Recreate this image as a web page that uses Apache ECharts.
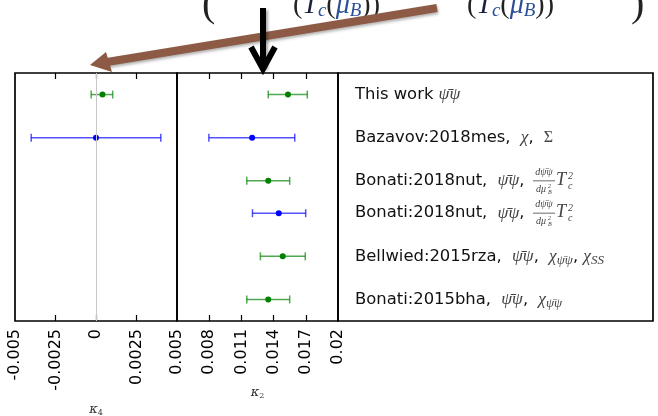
<!DOCTYPE html>
<html><head><meta charset="utf-8">
<script src="https://cdn.jsdelivr.net/npm/echarts@6/dist/echarts.min.js"></script>
<style>html,body{margin:0;padding:0;background:#fff}#c{width:658px;height:416px}</style>
</head><body><div id="c"></div>
<script>
// ---- data ----
const rowNames = ['This work', 'Bazavov:2018mes,', 'Bonati:2018nut,', 'Bonati:2018nut,', 'Bellwied:2015rza,', 'Bonati:2015bha,'];
const rowMath = ['{m|ψ̄ψ}', '{g| }{m|χ}, {g| }{r|Σ}', '{g| }{m|ψ̄ψ},', '{g| }{m|ψ̄ψ},',
  '{g| }{m|ψ̄ψ}, {g| }{m|χ}{sub|ψ̄ψ}, {m|χ}{sub|SS}', '{g| }{m|ψ̄ψ}, {g| }{m|χ}{sub|ψ̄ψ}'];
const fracRows = [2, 3];
const rowPos = [5.25, 4.25, 3.25, 2.5, 1.5, 0.5];
const rowGroup = ['g', 'b', 'g', 'b', 'g', 'g'];
const k4Val = [0.0004, 0.0, null, null, null, null];
const k4Lo  = [-0.0003, -0.004, null, null, null, null];
const k4Hi  = [0.00103, 0.004, null, null, null, null];
const k2Val = [0.01534, 0.0120, 0.0135, 0.01448, 0.01485, 0.0135];
const k2Lo  = [0.0135, 0.00797, 0.0115, 0.01203, 0.01277, 0.0115];
const k2Hi  = [0.01714, 0.01597, 0.0155, 0.01699, 0.01695, 0.0155];
const k4Labels = [-0.005, -0.0025, 0, 0.0025];
const k4Ticks = [-0.0025, 0, 0.0025];
const k2Labels = [0.005, 0.008, 0.011, 0.014, 0.017, 0.02];
const k2Ticks = [0.008, 0.011, 0.014, 0.017];

// ---- styles ----
const colors = { g: '#008000', b: '#0000ff' };
const mathColor = '#444';
const mathFont = 'Liberation Serif';
const fmt = v => String(+(+v).toFixed(4));

function errRender(params, api) {
  const y = api.value(2);
  const p1 = api.coord([api.value(0), y]);
  const p2 = api.coord([api.value(1), y]);
  const h = 4;
  const st = { stroke: api.visual('color'), lineWidth: 1.5, opacity: 0.68 };
  return { type: 'group', children: [
    { type: 'line', shape: { x1: p1[0], y1: p1[1], x2: p2[0], y2: p2[1] }, style: st },
    { type: 'line', shape: { x1: p1[0], y1: p1[1] - h, x2: p1[0], y2: p1[1] + h }, style: st },
    { type: 'line', shape: { x1: p2[0], y1: p2[1] - h, x2: p2[0], y2: p2[1] + h }, style: st }
  ]};
}
function build(vals, lo, hi, xi, yi) {
  const out = [];
  ['g', 'b'].forEach(g => {
    const errData = [], ptData = [];
    vals.forEach((v, i) => {
      if (v == null || rowGroup[i] !== g) return;
      errData.push([lo[i], hi[i], rowPos[i]]);
      ptData.push([v, rowPos[i]]);
    });
    out.push({ type: 'custom', xAxisIndex: xi, yAxisIndex: yi, renderItem: errRender, silent: true,
      itemStyle: { color: colors[g] }, encode: { x: [0, 1], y: 2 }, data: errData, z: 3 });
    out.push({ type: 'scatter', xAxisIndex: xi, yAxisIndex: yi, symbol: 'circle', symbolSize: 6, silent: true,
      itemStyle: { color: colors[g], opacity: 1 }, data: ptData, z: 4 });
  });
  return out;
}

const series = [
  { type: 'scatter', xAxisIndex: 0, yAxisIndex: 0, data: [], silent: true, z: 1,
    markLine: { silent: true, symbol: ['none', 'none'], label: { show: false },
      lineStyle: { color: '#c8c8c8', width: 1, type: 'solid' }, data: [{ xAxis: 0 }] } },
  ...build(k4Val, k4Lo, k4Hi, 0, 0),
  ...build(k2Val, k2Lo, k2Hi, 2, 1)
];

const tickStyle = { inside: true, length: 6, lineStyle: { color: '#000', width: 1.2 } };
const labelStyle = { rotate: 90, margin: 8, fontFamily: 'DejaVu Sans', fontSize: 16, color: '#000', formatter: fmt };
const nameStyle = { color: '#333', rich: {
  k: { fontFamily: 'DejaVu Serif', fontStyle: 'italic', fontSize: 13, color: '#333' },
  s: { fontFamily: 'DejaVu Serif', fontSize: 8, color: '#333', padding: [6, 0, 0, 0] } } };

function xAx(grid, min, max, pos, ticks, labels, name, gap) {
  return { gridIndex: grid, type: 'value', min, max, position: pos,
    axisLine: { show: false }, splitLine: { show: false },
    axisTick: Object.assign({}, tickStyle, { customValues: ticks }),
    axisLabel: labels ? Object.assign({}, labelStyle, { customValues: labels }) : { show: false },
    name: name || '', nameLocation: 'middle', nameGap: gap || 0, nameTextStyle: nameStyle };
}

const gridBase = { top: 73, height: 248, show: true, borderColor: '#000', borderWidth: 1.7, containLabel: false, outerBoundsMode: 'none' };
const option = {
  backgroundColor: '#fff',
  animation: false,
  grid: [
    Object.assign({ left: 15, width: 162 }, gridBase),
    Object.assign({ left: 177, width: 161 }, gridBase),
    Object.assign({ left: 338, width: 315 }, gridBase)
  ],
  xAxis: [
    xAx(0, -0.005, 0.005, 'bottom', k4Ticks, k4Labels, '{k|κ}{s|4}', 82),
    xAx(0, -0.005, 0.005, 'top', k4Ticks, null),
    xAx(1, 0.005, 0.02, 'bottom', k2Ticks, k2Labels, '{k|κ}{s|2}', 65),
    xAx(1, 0.005, 0.02, 'top', k2Ticks, null),
    { gridIndex: 2, type: 'value', min: 0, max: 1, show: false }
  ],
  yAxis: [
    { gridIndex: 0, type: 'value', min: 0, max: 5.75, show: false },
    { gridIndex: 1, type: 'value', min: 0, max: 5.75, show: false },
    { gridIndex: 2, type: 'value', min: 0, max: 5.75,
      axisLine: { show: false }, axisTick: { show: false }, splitLine: { show: false },
      axisLabel: { customValues: rowPos, inside: true, margin: 17, fontFamily: 'DejaVu Sans', fontSize: 16.4, color: '#111',
        formatter: v => { let i = 0; rowPos.forEach((p, j) => { if (Math.abs(p - v) < Math.abs(rowPos[i] - v)) i = j; }); return rowNames[i] + ' ' + rowMath[i]; },
        rich: {
          g: { width: 5, fontSize: 10 },
          m: { fontFamily: mathFont, fontStyle: 'italic', fontSize: 17.5, color: mathColor, lineHeight: 22 },
          r: { fontFamily: mathFont, fontSize: 16, color: mathColor, lineHeight: 22 },
          sub: { fontFamily: mathFont, fontStyle: 'italic', fontSize: 13, color: mathColor, verticalAlign: 'bottom', lineHeight: 22 }
        } } }
  ],
  series
};

const chart = echarts.init(document.getElementById('c'), null, { renderer: 'canvas' });
chart.setOption(option);

// ---- decorations: formula fragment, arrows, fractions ----
const serif = 'Liberation Serif';
const formulaRich = {
  p: { fontFamily: serif, fontSize: 28, fill: '#222' },
  T: { fontFamily: serif, fontStyle: 'italic', fontSize: 28, fill: '#1a1f3a' },
  c: { fontFamily: serif, fontStyle: 'italic', fontSize: 19, fill: '#2a4f96', verticalAlign: 'bottom' },
  mu: { fontFamily: serif, fontStyle: 'italic', fontSize: 28, fill: '#2a4f96' },
  B: { fontFamily: serif, fontStyle: 'italic', fontSize: 19, fill: '#2a4f96', verticalAlign: 'bottom' }
};
const formulaText = '{p|(}{T|T}{c|c}{p|(}{mu|μ}{B|B}{p|))}';
const graphics = [
  { type: 'text', x: 202, y: 25, style: { text: '(', fontFamily: serif, fontSize: 40, fill: '#222', verticalAlign: 'bottom' } },
  { type: 'text', x: 631, y: 25, style: { text: ')', fontFamily: serif, fontSize: 40, fill: '#222', verticalAlign: 'bottom' } },
  { type: 'text', x: 293, y: 20, style: { text: formulaText, rich: formulaRich, verticalAlign: 'bottom' } },
  { type: 'text', x: 467, y: 20, style: { text: formulaText, rich: formulaRich, verticalAlign: 'bottom' } },
  { type: 'line', shape: { x1: 437, y1: 8, x2: 104, y2: 62.5 }, style: { stroke: '#8c5a45', lineWidth: 8, shadowBlur: 3, shadowColor: 'rgba(0,0,0,0.3)', shadowOffsetX: 1, shadowOffsetY: 2 } },
  { type: 'polygon', shape: { points: [[90, 65], [106, 52], [112, 72]] }, style: { fill: '#8c5a45' } },
  { type: 'line', shape: { x1: 263, y1: 8, x2: 263, y2: 68 }, style: { stroke: '#000', lineWidth: 6, shadowBlur: 3, shadowColor: 'rgba(0,0,0,0.35)', shadowOffsetX: 2, shadowOffsetY: 2 } },
  { type: 'polyline', shape: { points: [[251, 47], [263, 69], [275, 47]] }, style: { stroke: '#000', lineWidth: 6, lineJoin: 'miter', fill: null } }
];
const fracX = 533;
fracRows.forEach(i => {
  const yc = chart.convertToPixel({ yAxisIndex: 2 }, rowPos[i]) - 0.5;
  const it = { fontFamily: mathFont, fontStyle: 'italic', fill: mathColor };
  graphics.push(
    { type: 'text', x: fracX + 11, y: yc - 3, style: Object.assign({ text: 'dψ̄ψ', fontSize: 10, align: 'center', verticalAlign: 'bottom' }, it) },
    { type: 'line', shape: { x1: fracX, y1: yc + 0.5, x2: fracX + 22, y2: yc + 0.5 }, style: { stroke: mathColor, lineWidth: 0.8 } },
    { type: 'text', x: fracX + 3, y: yc + 4, style: Object.assign({ text: 'dμ', fontSize: 10, align: 'left', verticalAlign: 'top' }, it) },
    { type: 'text', x: fracX + 15, y: yc + 3, style: Object.assign({ text: '2', fontSize: 6, align: 'left', verticalAlign: 'top' }, it) },
    { type: 'text', x: fracX + 15, y: yc + 9, style: Object.assign({ text: 'B', fontSize: 6, align: 'left', verticalAlign: 'top' }, it) },
    { type: 'text', x: fracX + 23, y: yc, style: Object.assign({ text: 'T', fontSize: 18, align: 'left', verticalAlign: 'middle' }, it) },
    { type: 'text', x: fracX + 35, y: yc - 9, style: Object.assign({ text: '2', fontSize: 10, align: 'left', verticalAlign: 'top' }, it) },
    { type: 'text', x: fracX + 35, y: yc + 1, style: Object.assign({ text: 'c', fontSize: 10, align: 'left', verticalAlign: 'top' }, it) }
  );
});
chart.setOption({ graphic: graphics });
</script></body></html>
